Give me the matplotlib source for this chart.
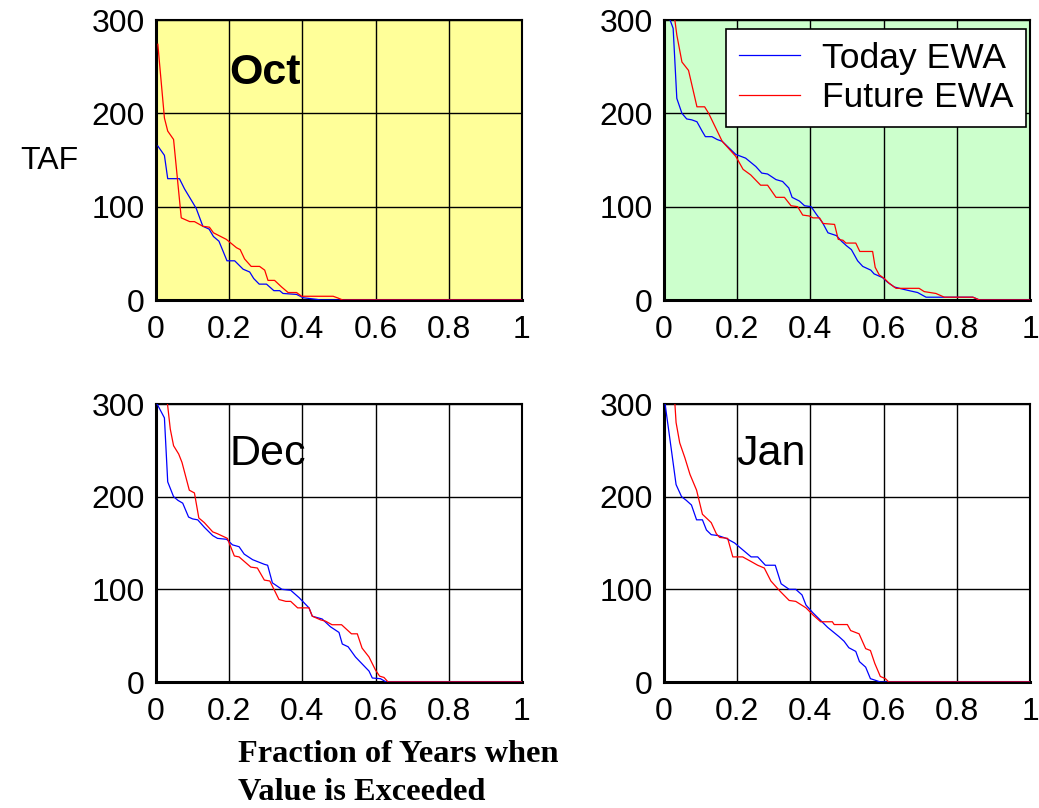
import matplotlib
matplotlib.use("Agg")
import matplotlib.pyplot as plt

plt.rcParams['font.family'] = ['Liberation Sans', 'DejaVu Sans']

months = ["Oct", "Nov", "Dec", "Jan"]
month_labels = ["Oct", "", "Dec", "Jan"]
series_names = ["Today EWA", "Future EWA"]
x_ticks = [0, 0.2, 0.4, 0.6, 0.8, 1.0]
x_tick_labels = ["0", "0.2", "0.4", "0.6", "0.8", "1"]
y_ticks = [0, 100, 200, 300]

oct_today_x = [0.005, 0.023, 0.032, 0.064, 0.078, 0.101, 0.110, 0.128, 0.145, 0.157, 0.172, 0.194, 0.215,
               0.238, 0.256, 0.267, 0.282, 0.302, 0.322, 0.338, 0.347, 0.384, 0.402, 0.439, 0.45, 1.0]
oct_today_y = [165, 155, 130, 130, 119, 104, 98, 79, 76, 68, 63, 42, 42,
               33, 30, 23, 17, 17, 10, 10, 7, 6, 2.4, 0.7, 0, 0]
oct_future_x = [0.005, 0.023, 0.032, 0.048, 0.069, 0.092, 0.105, 0.128, 0.146, 0.157, 0.192, 0.220, 0.230,
                0.242, 0.260, 0.283, 0.297, 0.306, 0.324, 0.343, 0.361, 0.384, 0.398, 0.484, 0.498, 0.51, 1.0]
oct_future_y = [274, 195, 181, 172, 88, 84, 84, 79, 78, 72, 65, 56, 54,
                44, 36, 36, 32, 21, 21, 14, 8, 8, 4, 4, 2, 0, 0]

nov_today_x = [0.012, 0.025, 0.035, 0.049, 0.062, 0.076, 0.090, 0.104, 0.113, 0.131, 0.145, 0.159, 0.196,
               0.223, 0.251, 0.267, 0.283, 0.306, 0.324, 0.341, 0.350, 0.370, 0.384, 0.402, 0.416, 0.433,
               0.448, 0.471, 0.485, 0.499, 0.512, 0.529, 0.543, 0.565, 0.574, 0.597, 0.611, 0.629, 0.643,
               0.670, 0.693, 0.716, 0.844, 0.862, 1.0]
nov_today_y = [305, 291, 216, 200, 194, 193, 191, 181, 175, 175, 172, 170, 156,
               152, 143, 136, 135, 129, 127, 120, 110, 106, 101, 100, 92, 83,
               72, 69, 63, 58, 54, 42, 36, 32, 28, 24, 19, 14, 12.5,
               10, 8, 3, 3, 0, 0]
nov_future_x = [0.028, 0.035, 0.049, 0.067, 0.090, 0.111, 0.122, 0.159, 0.196, 0.216, 0.237, 0.264, 0.283,
                0.306, 0.329, 0.347, 0.365, 0.379, 0.397, 0.407, 0.425, 0.434, 0.466, 0.476, 0.489, 0.497,
                0.524, 0.535, 0.570, 0.577, 0.588, 0.602, 0.615, 0.634, 0.697, 0.711, 0.743, 0.766, 0.844,
                0.862, 1.0]
nov_future_y = [305, 284, 255, 246, 207, 207, 200, 170, 154, 140, 134, 123, 123,
                110, 110, 101, 100, 91, 90, 88, 88, 82, 81, 65, 64, 61,
                61, 52, 52, 35, 27, 23, 18, 12.5, 12.5, 9, 7, 3, 3,
                0, 0]

dec_today_x = [0.003, 0.023, 0.032, 0.048, 0.060, 0.073, 0.089, 0.100, 0.114, 0.132, 0.155, 0.168, 0.193,
               0.209, 0.227, 0.241, 0.264, 0.296, 0.305, 0.318, 0.344, 0.368, 0.391, 0.418, 0.427, 0.454,
               0.477, 0.500, 0.509, 0.525, 0.545, 0.563, 0.582, 0.591, 0.613, 0.629, 1.0]
dec_today_y = [300, 285, 216, 200, 196, 193, 178, 176, 175, 167, 158, 155, 154,
               148, 146, 138, 132, 127, 126, 107, 100, 99, 91, 80, 71, 68,
               59.5, 53.5, 41, 38, 27, 19.6, 11.8, 4.3, 3.6, 0, 0]
dec_future_x = [0.030, 0.039, 0.048, 0.062, 0.071, 0.091, 0.105, 0.117, 0.132, 0.155, 0.168, 0.195, 0.214,
                0.227, 0.259, 0.277, 0.296, 0.311, 0.336, 0.355, 0.368, 0.387, 0.418, 0.427, 0.450, 0.463,
                0.481, 0.507, 0.534, 0.550, 0.563, 0.582, 0.600, 0.611, 0.623, 0.634, 1.0]
dec_future_y = [305, 273, 255, 246, 237, 207, 204, 177, 172, 162, 160, 155, 136,
                135, 124, 123, 110, 109, 89, 87, 87, 80, 80, 71, 67, 65.7,
                61.8, 61.8, 52, 52, 36.6, 27, 12.7, 6.3, 4.9, 0, 0]

jan_today_x = [0.003, 0.021, 0.033, 0.048, 0.061, 0.075, 0.089, 0.105, 0.116, 0.129, 0.148, 0.170, 0.193,
               0.211, 0.238, 0.256, 0.277, 0.304, 0.320, 0.342, 0.360, 0.377, 0.388, 0.406, 0.424, 0.447,
               0.478, 0.492, 0.505, 0.524, 0.534, 0.551, 0.564, 0.578, 0.591, 1.0]
jan_today_y = [300, 248, 213, 200, 196, 191, 175, 175, 164, 159, 158, 155, 150,
               144, 135, 135, 126, 126, 106, 100, 100, 94, 83, 75, 68, 59,
               49, 44, 37, 33, 22, 16, 3.6, 1.8, 0, 0]
jan_future_x = [0.029, 0.033, 0.043, 0.057, 0.071, 0.089, 0.105, 0.129, 0.143, 0.152, 0.174, 0.188, 0.215,
                0.238, 0.256, 0.274, 0.292, 0.317, 0.342, 0.360, 0.388, 0.408, 0.428, 0.460, 0.465, 0.501,
                0.510, 0.533, 0.551, 0.564, 0.576, 0.591, 0.605, 0.614, 1.0]
jan_future_y = [305, 280, 258, 242, 224, 207, 181, 172, 160, 156, 155, 135, 135,
                130, 126, 123, 109, 98, 88, 87, 80, 72, 65, 65, 62, 62,
                55.5, 52, 36, 34, 20, 6, 3.6, 0, 0]

today_data = [(oct_today_x, oct_today_y), (nov_today_x, nov_today_y),
              (dec_today_x, dec_today_y), (jan_today_x, jan_today_y)]
future_data = [(oct_future_x, oct_future_y), (nov_future_x, nov_future_y),
               (dec_future_x, dec_future_y), (jan_future_x, jan_future_y)]

bg_colors = ["#FFFF99", "#CCFFCC", "white", "white"]

W, H = 1039, 808
fig = plt.figure(figsize=(W / 100, H / 100), dpi=100)

# axes boxes in pixels: (left, top, right, bottom)
boxes = [(156, 20, 522, 300), (664, 20, 1030, 300),
         (156, 404, 522, 682), (664, 404, 1030, 682)]

axes = []
for i, (l, t, r, b) in enumerate(boxes):
    ax = fig.add_axes([l / W, 1 - b / H, (r - l) / W, (b - t) / H])
    ax.set_facecolor(bg_colors[i])
    ax.set_xlim(0, 1)
    ax.set_ylim(0, 300)
    ax.set_xticks(x_ticks)
    ax.set_xticklabels(x_tick_labels)
    ax.set_yticks(y_ticks)
    ax.tick_params(length=0, labelsize=23, colors='black')
    ax.tick_params(axis='x', pad=11)
    ax.tick_params(axis='y', pad=8)
    ax.grid(True, color='black', linewidth=1.0)
    ax.set_axisbelow(True)
    for s in ax.spines.values():
        s.set_linewidth(1.5)
        s.set_color('black')
    ax.spines['left'].set_linewidth(2.2)
    ax.spines['bottom'].set_linewidth(2.2)
    tx, ty = today_data[i]
    fx, fy = future_data[i]
    ax.plot(tx, ty, color='#0000FF', linewidth=0.9, label=series_names[0], zorder=3)
    ax.plot(fx, fy, color='#FF0000', linewidth=0.9, label=series_names[1], zorder=4)
    axes.append(ax)

axes[0].text(0.2, 243, month_labels[0], fontsize=31, fontweight='bold', ha='left', va='center')
axes[2].text(0.2, 246, month_labels[2], fontsize=31, ha='left', va='center')
axes[3].text(0.198, 246, month_labels[3], fontsize=31, ha='left', va='center')

leg = axes[1].legend(loc='upper right', bbox_to_anchor=(0.989, 0.968), borderaxespad=0,
                     fontsize=25.5, frameon=True, fancybox=False, framealpha=1,
                     edgecolor='black', handlelength=1.72, handletextpad=0.61,
                     borderpad=0.36, labelspacing=0.18)
leg.get_frame().set_linewidth(1.2)
leg.set_zorder(10)

fig.text(20 / W, 1 - 161 / H, "TAF", fontsize=23, ha='left', va='center')
fig.text(238 / W, 1 - 755 / H, "Fraction of Years when", fontsize=23.3, fontweight='bold',
         family=['Liberation Serif', 'DejaVu Serif'], ha='left', va='center')
fig.text(238 / W, 1 - 793 / H, "Value is Exceeded", fontsize=23.3, fontweight='bold',
         family=['Liberation Serif', 'DejaVu Serif'], ha='left', va='center')

fig.savefig("out.png", dpi=100)
